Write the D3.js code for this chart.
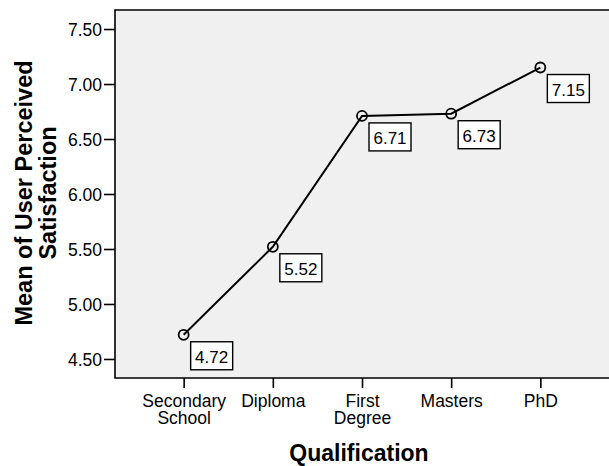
<!DOCTYPE html>
<html><head><meta charset="utf-8">
<script src="https://cdn.jsdelivr.net/npm/d3@7"></script>
<style>body{margin:0;background:#fff}svg{display:block}text{font-family:"Liberation Sans",Arial,sans-serif}</style>
</head><body>
<script>
const categories = ["Secondary School", "Diploma", "First Degree", "Masters", "PhD"];
const categoryLines = [["Secondary","School"],["Diploma"],["First","Degree"],["Masters"],["PhD"]];
const values = [4.72, 5.52, 6.71, 6.73, 7.15];
const yTicks = [4.5, 5.0, 5.5, 6.0, 6.5, 7.0, 7.5];
const xTitle = "Qualification";
const yTitleLines = ["Mean of User Perceived", "Satisfaction"];

const W = 609, H = 466;
const m = {left:115, top:10, right:0, bottom:88};
const svg = d3.select("body").append("svg").attr("width", W).attr("height", H);

const x = d3.scalePoint().domain(categories).range([m.left, W - m.right]).padding(0.77);
const y = d3.scaleLinear().domain([4.327, 7.673]).range([H - m.bottom, m.top]);

svg.append("rect").attr("x", m.left).attr("y", m.top)
  .attr("width", W - m.right - m.left).attr("height", H - m.bottom - m.top)
  .attr("fill", "#f0f0f0");
svg.append("path").attr("d", `M${W},${m.top}H${m.left}V${H-m.bottom}H${W}`)
  .attr("fill","none").attr("stroke","#000").attr("stroke-width",1.6);

const yAxis = svg.append("g").attr("transform", `translate(${m.left},0)`)
  .call(d3.axisLeft(y).tickValues(yTicks).tickFormat(d3.format(".2f")).tickSize(11).tickPadding(2));
yAxis.select(".domain").remove();
yAxis.selectAll("line").attr("stroke","#000").attr("stroke-width",1.6);
yAxis.selectAll("text").attr("font-size", 17.5).attr("fill","#000").attr("dy","0.36em");

const xAxis = svg.append("g").attr("transform", `translate(0,${H-m.bottom})`)
  .call(d3.axisBottom(x).tickSize(10).tickFormat(""));
xAxis.select(".domain").remove();
xAxis.selectAll("line").attr("stroke","#000").attr("stroke-width",1.6);
xAxis.selectAll(".tick").each(function(d, i){
  const g = d3.select(this);
  categoryLines[i].forEach((s, j) => g.append("text").attr("text-anchor","middle")
    .attr("font-size",17.5).attr("fill","#000").attr("x",0).attr("y", 29 + j*17).text(s));
});

const pts = categories.map((c,i)=>({c, v:values[i]}));
svg.append("path").datum(pts)
  .attr("d", d3.line().x(d=>x(d.c)).y(d=>y(d.v)))
  .attr("fill","none").attr("stroke","#000").attr("stroke-width",2);
svg.selectAll("circle.pt").data(pts).join("circle").attr("class","pt")
  .attr("cx", d=>x(d.c)).attr("cy", d=>y(d.v)).attr("r",5)
  .attr("fill","none").attr("stroke","#000").attr("stroke-width",1.8);

const lab = svg.selectAll("g.lab").data(pts).join("g").attr("class","lab")
  .attr("transform", d=>`translate(${x(d.c)+7},${y(d.v)+7})`);
lab.append("rect").attr("width",42).attr("height",28).attr("fill","#fff").attr("stroke","#000").attr("stroke-width",1.4);
lab.append("text").attr("x",21).attr("y",21).attr("text-anchor","middle").attr("font-size",17)
  .text(d=>d3.format(".2f")(d.v));

svg.append("text").attr("x", 359).attr("y", 461).attr("text-anchor","middle")
  .attr("font-size",23).attr("font-weight","bold").text(xTitle);

const yt = svg.append("text").attr("transform","translate(0,193) rotate(-90)")
  .attr("text-anchor","middle").attr("font-size",23.5).attr("font-weight","bold");
yTitleLines.forEach((s,j)=>yt.append("tspan").attr("x",0).attr("y", 32 + j*24).text(s));
</script>
</body></html>
